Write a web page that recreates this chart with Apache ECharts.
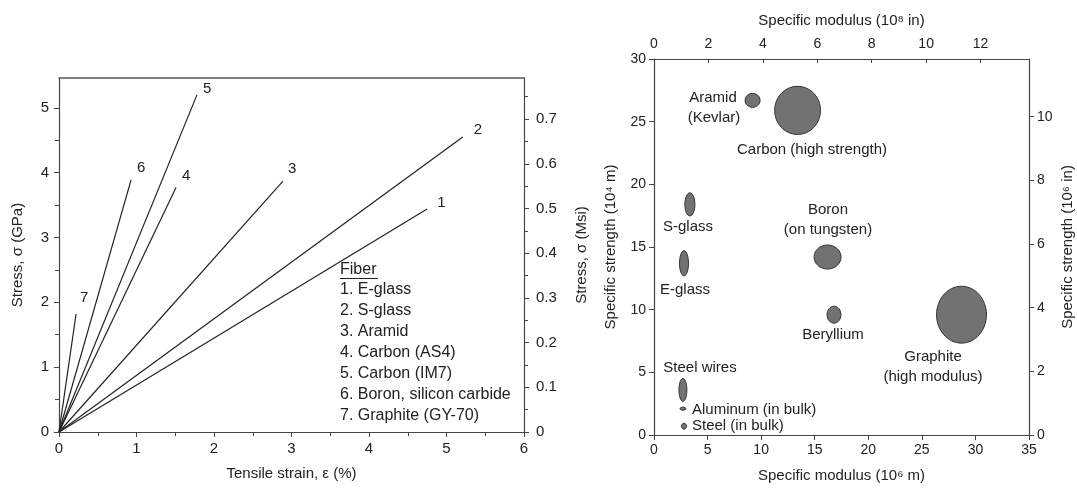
<!DOCTYPE html>
<html>
<head>
<meta charset="utf-8">
<script src="https://cdn.jsdelivr.net/npm/echarts@6/dist/echarts.min.js"></script>
<style>
html,body{margin:0;padding:0;background:#fff;}
#c{width:1077px;height:489px;}
</style>
</head>
<body>
<div id="c"></div>
<script>
// ---- Left chart data: stress-strain lines of fibers ----
const fiberIds = ['1', '2', '3', '4', '5', '6', '7'];
const fiberNames = ['E-glass', 'S-glass', 'Aramid', 'Carbon (AS4)', 'Carbon (IM7)', 'Boron, silicon carbide', 'Graphite (GY-70)'];
const failStrain = [4.75, 5.21, 2.89, 1.51, 1.78, 0.93, 0.22];   // %
const failStress = [3.44, 4.55, 3.87, 3.77, 5.20, 3.89, 1.82];   // GPa
const strainTicks = [0, 1, 2, 3, 4, 5, 6];
const gpaTicks = [0, 1, 2, 3, 4, 5];
const msiTicks = [0, 0.1, 0.2, 0.3, 0.4, 0.5, 0.6, 0.7];

// ---- Right chart data: specific modulus vs specific strength ----
const materials = ['Aramid (Kevlar)', 'Carbon (high strength)', 'S-glass', 'E-glass', 'Boron (on tungsten)', 'Beryllium', 'Graphite (high modulus)', 'Steel wires', 'Aluminum (in bulk)', 'Steel (in bulk)'];
const specModulus = [9.2, 13.4, 3.35, 2.8, 16.2, 16.8, 28.7, 2.7, 2.7, 2.8];      // 10^6 m
const specStrength = [26.7, 25.9, 18.4, 13.7, 14.2, 9.6, 9.6, 3.6, 2.1, 0.7];     // 10^4 m
const modulusSpread = [0.7, 2.14, 0.47, 0.42, 1.26, 0.65, 2.33, 0.37, 0.28, 0.23]; // half-width, 10^6 m
const strengthSpread = [0.56, 1.92, 0.92, 1.0, 0.96, 0.68, 2.27, 0.92, 0.12, 0.24]; // half-height, 10^4 m
const modulusMTicks = [0, 5, 10, 15, 20, 25, 30, 35];
const modulusInTicks = [0, 2, 4, 6, 8, 10, 12];
const strengthMTicks = [0, 5, 10, 15, 20, 25, 30];
const strengthInTicks = [0, 2, 4, 6, 8, 10];

const GPA_PER_MSI = 6.895;
const M_TO_IN = 39.37;
const gpaMax = 5.46;
const strainMax = 6;
const modMax = 35, strMax = 30;

const FONT = '"Liberation Sans", Arial, sans-serif';
const INK = '#222';
const AX = '#444';

const chart = echarts.init(document.getElementById('c'), null, {renderer: 'canvas'});

function axisBase(extra) {
  return Object.assign({
    axisLine: {show: true, onZero: false, lineStyle: {color: AX, width: 1.2}},
    axisTick: {show: true, length: 5, lineStyle: {color: AX}},
    splitLine: {show: false},
    axisLabel: {color: INK, fontFamily: FONT, fontSize: 14},
    nameTextStyle: {color: INK, fontFamily: FONT, fontSize: 15},
    nameLocation: 'middle'
  }, extra);
}

const lineSeries = fiberIds.map((id, i) => ({
  type: 'line',
  xAxisIndex: 0, yAxisIndex: 0,
  data: [[0, 0], [failStrain[i], failStress[i]]],
  showSymbol: false,
  symbol: 'none',
  lineStyle: {color: INK, width: 1.2},
  silent: true,
  animation: false,
  endLabel: {
    show: true, formatter: id, color: INK, fontFamily: FONT, fontSize: 15,
    offset: [[2, -6], [3, -7], [-3, -12], [-2, -12], [-2, -6], [-2, -12], [-4, -16]][i]
  },
  labelLayout: {hideOverlap: false}
}));

const bubbleSeries = {
  type: 'custom',
  xAxisIndex: 2, yAxisIndex: 2,
  data: materials.map((m, i) => [specModulus[i], specStrength[i], modulusSpread[i], strengthSpread[i], m]),
  renderItem: function (params, api) {
    const c = api.coord([api.value(0), api.value(1)]);
    const s = api.size([api.value(2), api.value(3)]);
    return {
      type: 'ellipse',
      shape: {cx: c[0], cy: c[1], rx: Math.max(s[0], 1.5), ry: Math.max(s[1], 1.5)},
      style: {fill: '#727272', stroke: '#333', lineWidth: 1}
    };
  },
  animation: false,
  silent: true
};

function txt(x, y, t, align, size) {
  return {
    type: 'text', x: x, y: y,
    style: {text: t, fill: INK, font: (size || 15) + 'px ' + FONT, textAlign: align || 'center', textVerticalAlign: 'middle'}
  };
}

const graphics = [];
// legend for left chart
graphics.push(txt(340, 270, 'Fiber', 'left', 16));
graphics.push({type: 'line', shape: {x1: 340, y1: 278.5, x2: 378, y2: 278.5}, style: {stroke: INK, lineWidth: 1}});
fiberNames.forEach((n, i) => graphics.push(txt(340, 290 + i * 21, fiberIds[i] + '. ' + n, 'left', 16)));
// annotations for right chart
graphics.push(txt(713, 98, 'Aramid'));
graphics.push(txt(714, 118, '(Kevlar)'));
graphics.push(txt(812, 150, 'Carbon (high strength)'));
graphics.push(txt(688, 227, 'S-glass'));
graphics.push(txt(685, 290, 'E-glass'));
graphics.push(txt(828, 210, 'Boron'));
graphics.push(txt(828, 230, '(on tungsten)'));
graphics.push(txt(833, 335, 'Beryllium'));
graphics.push(txt(933, 357, 'Graphite'));
graphics.push(txt(933, 377, '(high modulus)'));
graphics.push(txt(700, 368, 'Steel wires'));
graphics.push(txt(692, 410, 'Aluminum (in bulk)', 'left'));
graphics.push(txt(692, 426, 'Steel (in bulk)', 'left'));

const option = {
  animation: false,
  backgroundColor: '#fff',
  grid: [
    {left: 59, top: 78, width: 465, height: 354},
    {left: 654, top: 59, width: 375, height: 376}
  ],
  xAxis: [
    axisBase({
      type: 'value', gridIndex: 0, position: 'bottom', min: 0, max: strainMax, interval: 1,
      name: 'Tensile strain, ε (%)', nameGap: 34,
      axisLabel: {color: INK, fontFamily: FONT, fontSize: 15, margin: 9, customValues: strainTicks},
      axisTick: {show: true, length: 5, lineStyle: {color: AX}, customValues: strainTicks},
      minorTick: {show: true, splitNumber: 2, length: 4, lineStyle: {color: AX}}
    }),
    axisBase({
      type: 'value', gridIndex: 0, position: 'top', min: 0, max: strainMax,
      axisLine: {show: true, onZero: false, lineStyle: {color: '#555', width: 1.6}},
      axisTick: {show: false}, axisLabel: {show: false}
    }),
    axisBase({
      type: 'value', gridIndex: 1, position: 'bottom', min: 0, max: modMax, interval: 5,
      name: 'Specific modulus (10⁶ m)', nameGap: 33,
      axisLabel: {color: INK, fontFamily: FONT, fontSize: 14, margin: 8}
    }),
    axisBase({
      type: 'value', gridIndex: 1, position: 'top', min: 0, max: modMax * M_TO_IN / 100, interval: 2,
      name: 'Specific modulus (10⁸ in)', nameGap: 31,
      axisLabel: {color: INK, fontFamily: FONT, fontSize: 14, margin: 8, customValues: modulusInTicks},
      axisTick: {show: true, inside: true, length: 4, lineStyle: {color: AX}, customValues: modulusInTicks}
    })
  ],
  yAxis: [
    axisBase({
      type: 'value', gridIndex: 0, position: 'left', min: 0, max: gpaMax, interval: 1,
      name: 'Stress, σ (GPa)', nameGap: 34, nameRotate: 90,
      axisLabel: {color: INK, fontFamily: FONT, fontSize: 15, margin: 10, customValues: gpaTicks},
      axisTick: {show: true, length: 5, lineStyle: {color: AX}, customValues: gpaTicks},
      minorTick: {show: true, splitNumber: 2, length: 4, lineStyle: {color: AX}}
    }),
    axisBase({
      type: 'value', gridIndex: 0, position: 'right', min: 0, max: gpaMax / GPA_PER_MSI, interval: 0.1,
      name: 'Stress, σ (Msi)', nameGap: 50, nameRotate: 90,
      axisLabel: {color: INK, fontFamily: FONT, fontSize: 15, margin: 12, customValues: msiTicks,
        formatter: v => (Math.round(v * 10) / 10).toString()},
      axisTick: {show: true, length: 5, lineStyle: {color: AX}, customValues: msiTicks},
      minorTick: {show: true, splitNumber: 2, length: 4, lineStyle: {color: AX}}
    }),
    axisBase({
      type: 'value', gridIndex: 1, position: 'left', min: 0, max: strMax, interval: 5,
      name: 'Specific strength (10⁴ m)', nameGap: 36, nameRotate: 90,
      axisLabel: {color: INK, fontFamily: FONT, fontSize: 14, margin: 8, customValues: strengthMTicks}
    }),
    axisBase({
      type: 'value', gridIndex: 1, position: 'right', min: 0, max: strMax / 100 * M_TO_IN, interval: 2,
      name: 'Specific strength (10⁶ in)', nameGap: 31, nameRotate: 90,
      axisLabel: {color: INK, fontFamily: FONT, fontSize: 14, margin: 8, customValues: strengthInTicks},
      axisTick: {show: true, length: 5, lineStyle: {color: AX}, customValues: strengthInTicks}
    })
  ],
  series: lineSeries.concat([bubbleSeries]),
  graphic: graphics
};
chart.setOption(option);
</script>
</body>
</html>
